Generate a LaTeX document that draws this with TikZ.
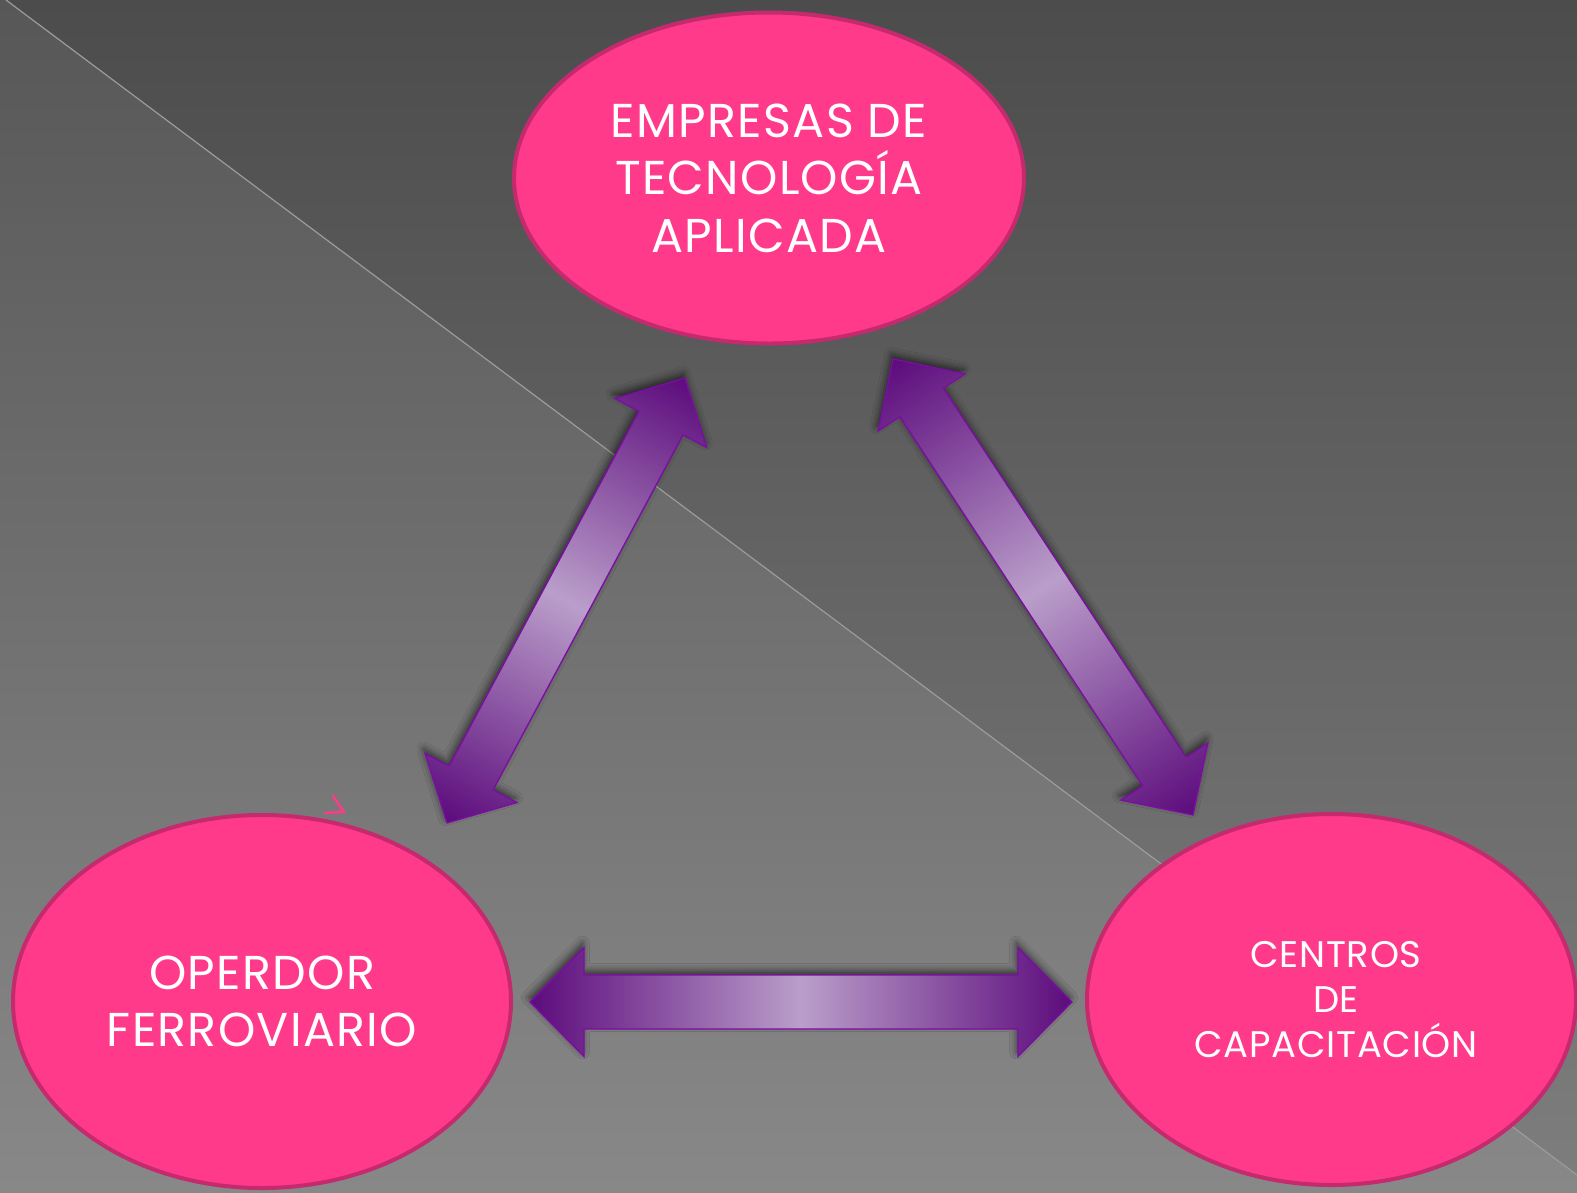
\documentclass[tikz,border=0pt]{standalone}
\usepackage{fontspec}
\setmainfont{Poppins}
\usetikzlibrary{shapes.geometric,shadows.blur}
\definecolor{bgtop}{HTML}{575757}
\definecolor{bgbot}{HTML}{888888}
\definecolor{uptop}{HTML}{4C4C4C}
\definecolor{upbot}{HTML}{7D7D7D}
\definecolor{diagline}{HTML}{9C9C9C}
\definecolor{pinkfill}{HTML}{FF3A8B}
\definecolor{pinkborder}{HTML}{C52A6E}
\definecolor{arrowdark}{HTML}{5C0B7C}
\definecolor{arrowlight}{HTML}{BA9ECA}
\definecolor{arrowborder}{HTML}{7D0CA6}
\newcommand\dblarrowpath[4]{({-#1/2},0) -- ({-#1/2+#2},{-#3}) -- ({-#1/2+#2},{-#4}) -- ({#1/2-#2},{-#4}) -- ({#1/2-#2},{-#3}) -- ({#1/2},0) -- ({#1/2-#2},{#3}) -- ({#1/2-#2},{#4}) -- ({-#1/2+#2},{#4}) -- ({-#1/2+#2},{#3}) -- cycle}
\tikzset{
  bubble/.style={ellipse, draw=pinkborder, line width=4pt, fill=pinkfill,
    text=white, align=center, inner sep=0pt, outer sep=0pt},
  bigtext/.style={font=\fontsize{47.5}{57.5}\selectfont\addfontfeatures{LetterSpace=2.8}},
  smalltext/.style={font=\fontsize{37}{45}\selectfont\addfontfeatures{LetterSpace=2}},
  blockarrow/.style={draw=arrowborder, line width=1.3pt, line join=miter,
    left color=arrowdark, right color=arrowdark, middle color=arrowlight},
  arrowshadow/.style 2 args={blur shadow={shadow xshift=#1, shadow yshift=#2,
    shadow blur radius=7pt, shadow opacity=60}}
}
\begin{document}
\begin{tikzpicture}[x=1pt,y=-1pt]
\useasboundingbox (0,0) rectangle (1577,1192);
\clip (0,0) rectangle (1577,1192);
% background
\fill[top color=bgtop, bottom color=bgbot] (0,0) rectangle (1577,1192);
\fill[top color=uptop, bottom color=upbot] (6,0) -- (1577,0) -- (1577,1175) -- cycle;
\draw[diagline, line width=1.2pt] (6,0) -- (1577,1175);
% ellipses
\node[bubble, bigtext, minimum width=510, minimum height=331] (emp) at (769,178)
  {EMPRESAS DE\\TECNOLOGÍA\\APLICADA};
\node[bubble, bigtext, minimum width=498, minimum height=373] (oper) at (262,1001.5)
  {OPERDOR\\FERROVIARIO};
\node[bubble, minimum width=489, minimum height=371] (cent) at (1331.5,999.5) {};
\node[smalltext, text=white, align=center, inner sep=0pt] (centtext) at (1336,999.5)
  {CENTROS\\DE\\CAPACITACIÓN};
% stray chevron mark
\draw[pinkfill, line width=2.5pt, line cap=round, line join=round]
  (333,796) -- (344,812) -- (325,813);
% arrows
\begin{scope}[transform canvas={shift={(566,600.5)},rotate=61.86}]
  \path[blockarrow, arrowshadow={3.3pt}{3.4pt}] \dblarrowpath{504.6}{51}{52}{25};
\end{scope}
\begin{scope}[transform canvas={shift={(1043,587)},rotate=-56.66}]
  \path[blockarrow, arrowshadow={-4.6pt}{1.2pt}] \dblarrowpath{545.8}{52}{52}{26};
\end{scope}
\begin{scope}[transform canvas={shift={(801,1002)}}]
  \path[blockarrow, arrowshadow={-1.5pt}{4.5pt}] \dblarrowpath{542}{54}{54.5}{27};
\end{scope}
\end{tikzpicture}
\end{document}
